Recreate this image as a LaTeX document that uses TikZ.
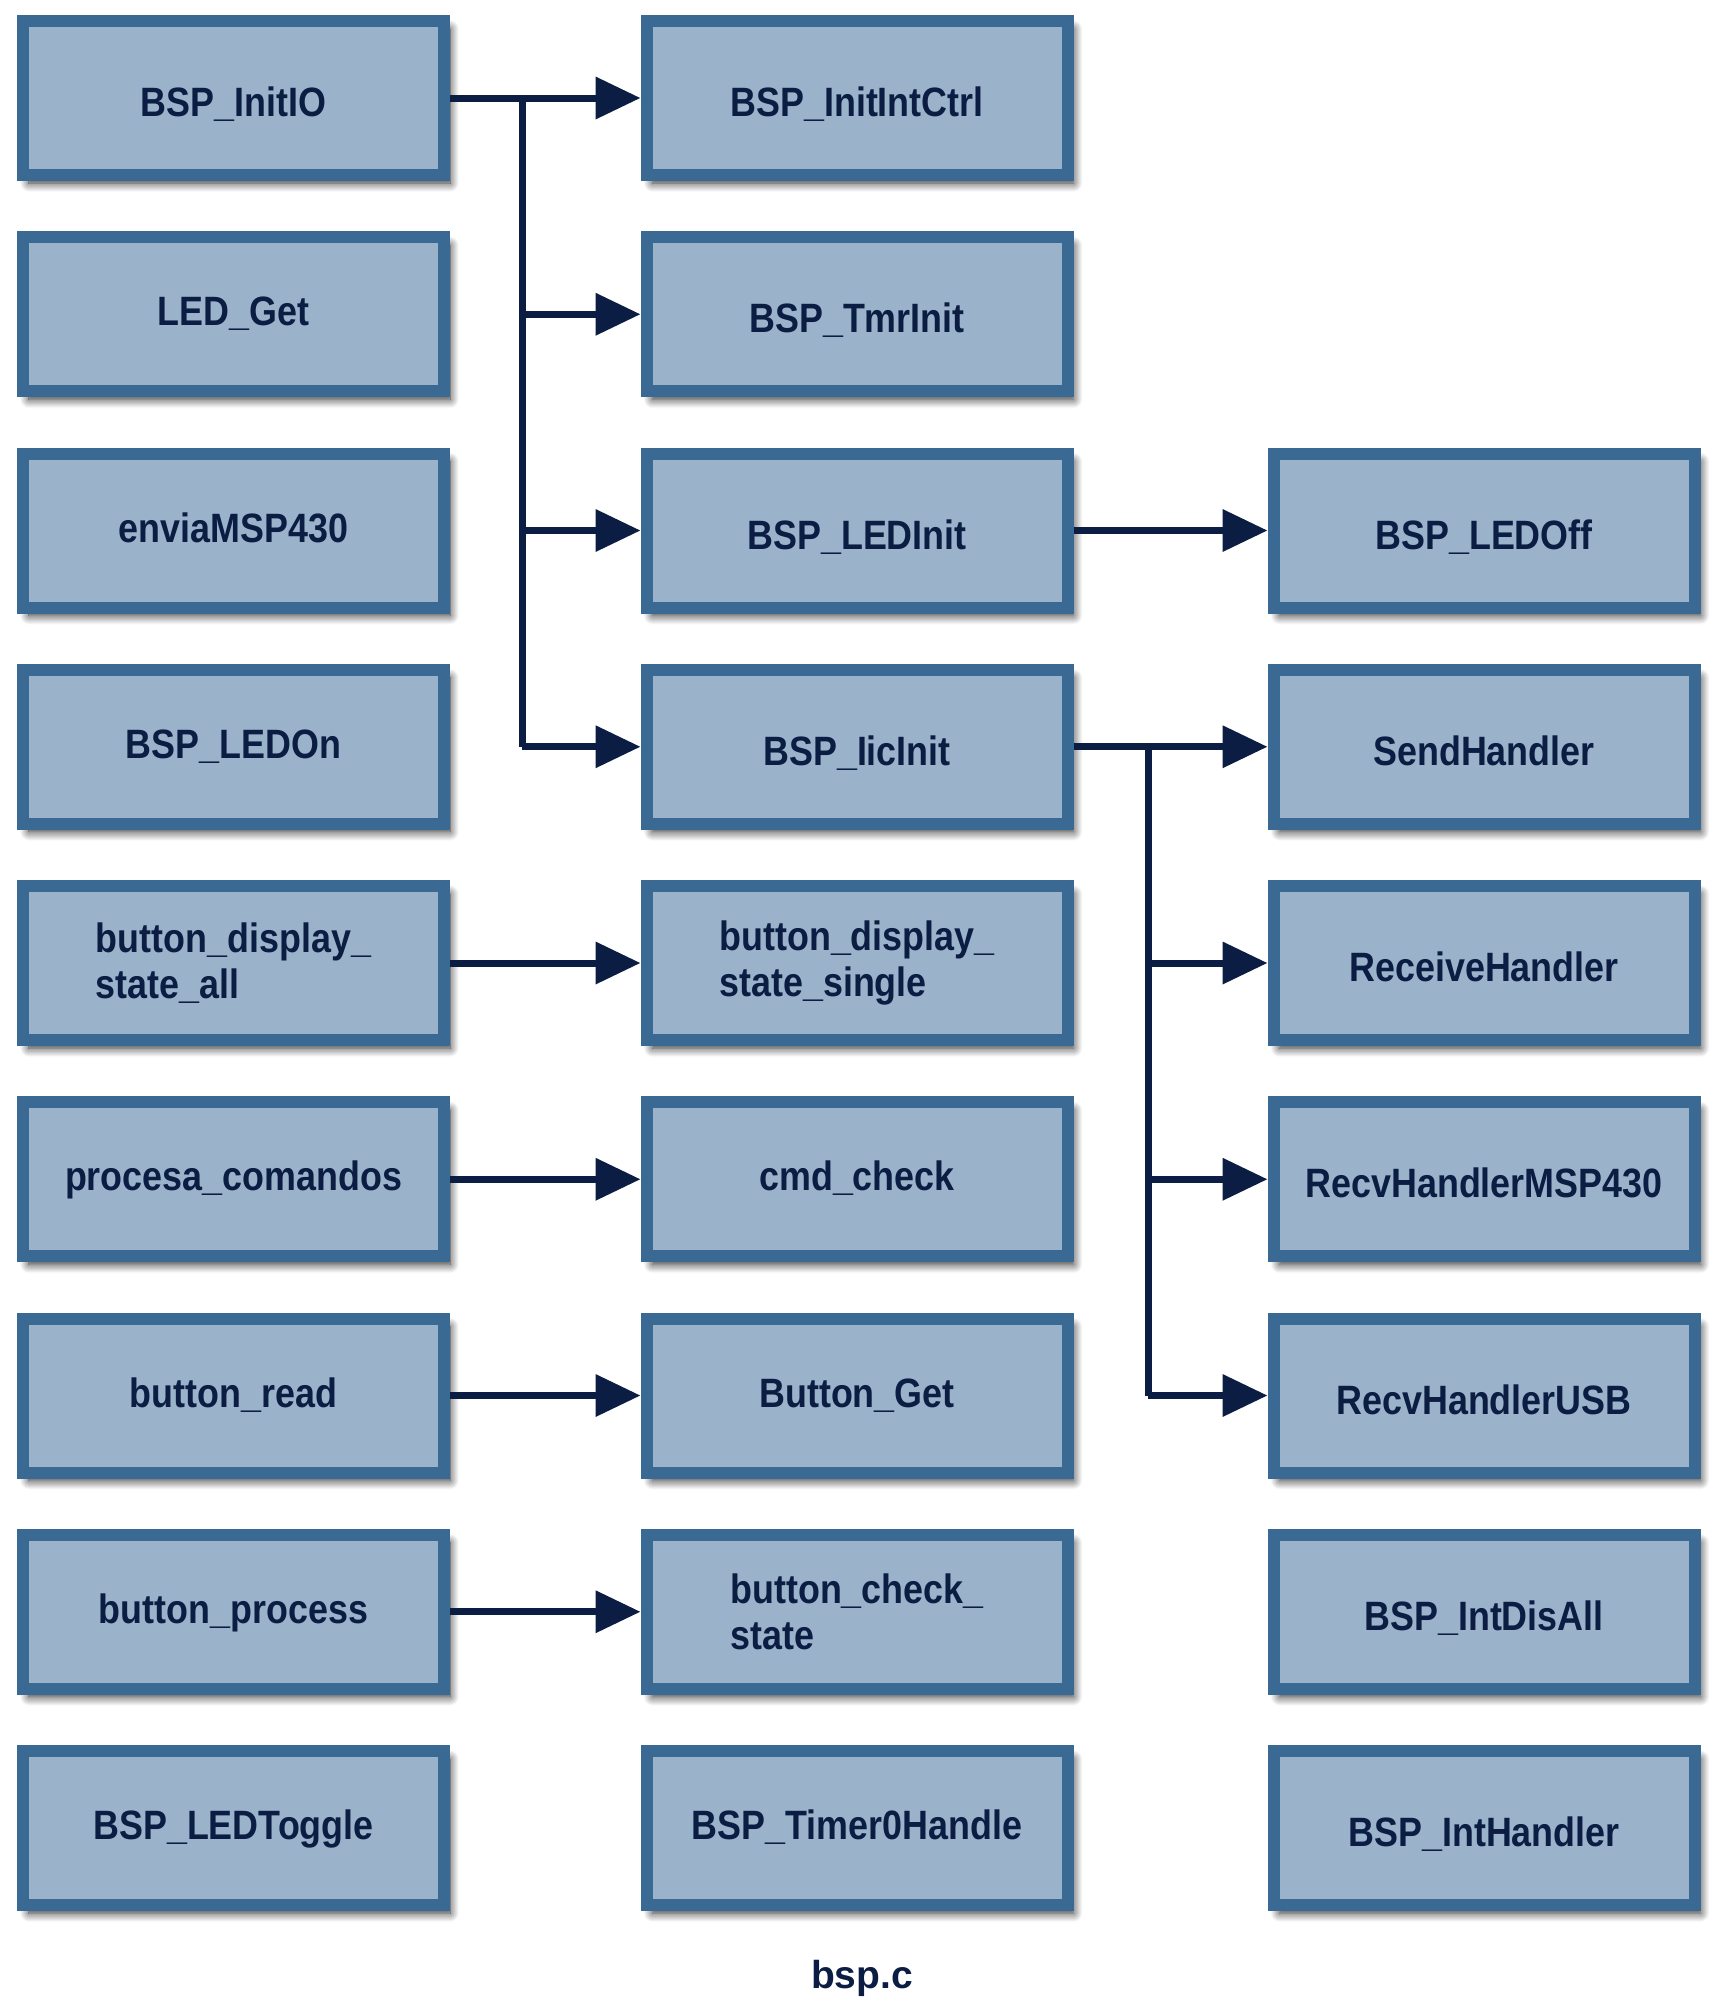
\documentclass[tikz,border=0pt]{standalone}
\usepackage{fontspec}
\setmainfont{Liberation Sans}
\newfontfamily\boxfont{Liberation Sans}[FakeStretch=0.875]
\usetikzlibrary{arrows.meta,shadows.blur}
\definecolor{boxfill}{HTML}{9AB3CB}
\definecolor{boxline}{HTML}{3A6A94}
\definecolor{ink}{HTML}{0B1D42}
\begin{document}
\begin{tikzpicture}[x=0.5pt,y=-0.5pt,
  fnbox/.style={draw=boxline, fill=boxfill, line width=6pt,
    minimum width=210.5pt, minimum height=77pt, inner sep=0pt,
    font=\boxfont\bfseries\fontsize{20.5pt}{23pt}\selectfont, text=ink, align=left,
    blur shadow={shadow xshift=3pt, shadow yshift=-4pt, shadow blur radius=4.5pt, shadow opacity=85, shadow blur steps=10}},
  hi/.style={text height=11.5pt, text depth=0pt},
  lo/.style={text height=18.5pt, text depth=0pt},
  call/.style={draw=ink, line width=3.5pt, -{Triangle[length=22.5pt,width=20.5pt]}},
  trunk/.style={draw=ink, line width=3.5pt}]
\useasboundingbox (0,0) rectangle (1726,2003);
\def\ca{233.5} \def\cb{857} \def\cc{1484}
% column 1
\node[fnbox,lo] (initio)  at (\ca, 98) {BSP\_InitIO};
\node[fnbox,hi] (ledget)  at (\ca, 314.25) {LED\_Get};
\node[fnbox,hi] (envia)   at (\ca, 530.5) {enviaMSP430};
\node[fnbox,hi] (ledon)   at (\ca, 746.75) {BSP\_LEDOn};
\node[fnbox] (bdsa)    at (\ca, 963) {button\_display\_\\state\_all};
\node[fnbox,hi] (procesa) at (\ca, 1179.25) {procesa\_comandos};
\node[fnbox,hi] (bread)   at (\ca, 1395.5) {button\_read};
\node[fnbox,hi] (bproc)   at (\ca, 1611.75) {button\_process};
\node[fnbox,hi] (toggle)  at (\ca, 1828) {BSP\_LEDToggle};
% column 2
\node[fnbox,lo] (intctrl) at (\cb, 98) {BSP\_InitIntCtrl};
\node[fnbox,lo] (tmr)     at (\cb, 314.25) {BSP\_TmrInit};
\node[fnbox,lo] (ledinit) at (\cb, 530.5) {BSP\_LEDInit};
\node[fnbox,lo] (iic)     at (\cb, 746.75) {BSP\_IicInit};
\node[fnbox] (bdss)    at (\cb, 963) {button\_display\_\\state\_single};
\node[fnbox,hi] (cmd)     at (\cb, 1179.25) {cmd\_check};
\node[fnbox,hi] (bget)    at (\cb, 1395.5) {Button\_Get};
\node[fnbox] (bcs)     at (\cb, 1611.75) {button\_check\_\\state};
\node[fnbox,hi] (timer)   at (\cb, 1828) {BSP\_Timer0Handle};
% column 3
\node[fnbox,lo] (ledoff)  at (\cc, 530.5) {BSP\_LEDOff};
\node[fnbox,lo] (send)    at (\cc, 746.75) {SendHandler};
\node[fnbox,lo] (recv)    at (\cc, 963) {ReceiveHandler};
\node[fnbox,lo] (rmsp)    at (\cc, 1179.25) {RecvHandlerMSP430};
\node[fnbox,lo] (rusb)    at (\cc, 1395.5) {RecvHandlerUSB};
\node[fnbox,lo] (disall)  at (\cc, 1611.75) {BSP\_IntDisAll};
\node[fnbox,lo] (inth)    at (\cc, 1828) {BSP\_IntHandler};
% caption
\node[font=\bfseries\fontsize{19.5pt}{23pt}\selectfont, text=ink] (cap) at (862, 1978) {bsp.c};
% connectors from BSP_InitIO
\coordinate (ta) at (522, 98);
\coordinate (tb) at (522, 746.75);
\draw[call] (initio.east) -- (intctrl.west);
\draw[trunk] (ta) -- (tb);
\draw[call] (ta |- tmr.west) -- (tmr.west);
\draw[call] (ta |- ledinit.west) -- (ledinit.west);
\draw[call] (tb) -- (iic.west);
% LEDInit -> LEDOff
\draw[call] (ledinit.east) -- (ledoff.west);
% connectors from BSP_IicInit
\coordinate (tc) at (1148, 746.75);
\coordinate (td) at (1148, 1395.5);
\draw[call] (iic.east) -- (send.west);
\draw[trunk] (tc) -- (td);
\draw[call] (tc |- recv.west) -- (recv.west);
\draw[call] (tc |- rmsp.west) -- (rmsp.west);
\draw[call] (td) -- (rusb.west);
% row calls
\draw[call] (bdsa.east) -- (bdss.west);
\draw[call] (procesa.east) -- (cmd.west);
\draw[call] (bread.east) -- (bget.west);
\draw[call] (bproc.east) -- (bcs.west);
\end{tikzpicture}
\end{document}
